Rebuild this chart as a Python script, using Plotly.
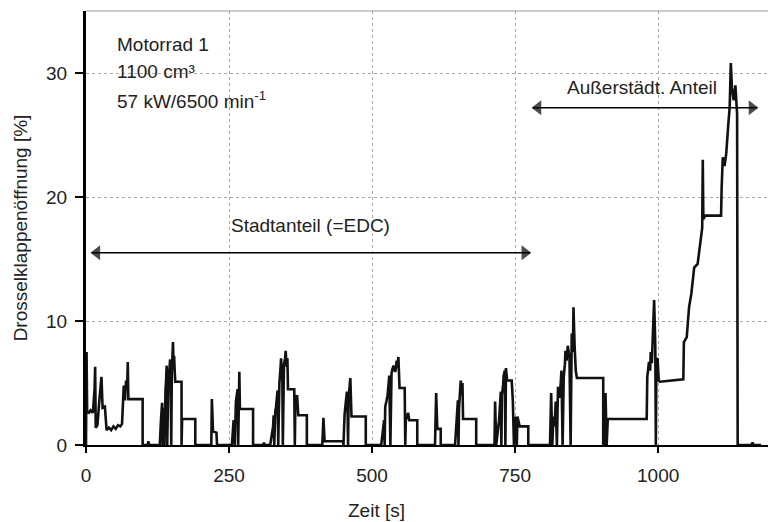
import plotly.graph_objects as go

# time [s]
t = [0, 1, 2, 5, 8, 12, 15, 16, 17, 20, 23, 25, 27, 29, 33, 36, 40, 44, 48, 52, 56, 60, 63, 66, 68, 70, 72, 73, 74, 99, 99,
     108, 109, 110,
     129, 131, 133, 134, 135, 136, 137, 138, 139, 140, 141, 142, 143, 144, 146, 147, 148, 149, 150, 151, 152, 153, 154, 155, 156,
     167, 167, 168, 168, 191, 191,
     219, 220, 222, 228, 229, 255, 258, 260, 262, 264, 265, 266, 267, 268, 269, 292, 292,
     310, 311, 312,
     322, 325, 327, 328, 329, 331, 332, 334, 335, 336, 337, 338, 340, 341, 342, 343, 344, 345, 346, 348, 349, 350, 351, 352, 353,
     364, 365, 366, 369, 371, 386, 386,
     413, 415, 417, 449, 450, 452, 453, 456, 457, 458, 459, 461, 462, 464, 489, 489,
     516, 518, 521, 522, 523, 525, 527, 529, 530, 532, 534, 536, 538, 540, 541, 543, 544, 546, 547, 548,
     557, 558, 559, 563, 565, 579, 579,
     610, 612, 614, 620, 620, 645, 648, 650, 651, 652, 654, 655, 657, 658, 659, 682, 682,
     714, 715, 717, 722, 724, 725, 726, 727, 729, 730, 732, 733, 734, 736, 744, 746, 748, 750, 753, 754, 758, 773, 773,
     811, 813, 815, 817, 819, 821, 823, 825, 827, 828, 830, 831, 833, 835, 837, 838, 840, 842, 844, 845, 847, 849, 851, 852,
     854, 856, 858, 860,
     904, 904, 906, 908, 910, 912, 980,
     981, 984, 986, 987, 989, 990, 991, 993, 995, 996, 997, 999, 1001, 1003, 1044, 1045, 1050, 1054, 1058, 1063, 1069, 1073, 1077,
     1078, 1079, 1082, 1110, 1111, 1113, 1116, 1119, 1123, 1125, 1127, 1129, 1132, 1135, 1138, 1139,
     1163, 1165, 1167, 1180]
# throttle opening [%]
v = [0, 7.5, 2.7, 2.6, 2.8, 2.6, 4.5, 6.3, 1.4, 1.6, 3.4, 4.6, 5.5, 3.0, 3.1, 1.2, 1.4, 1.2, 1.5, 1.3, 1.6, 1.5, 1.7, 4.8, 3.6, 5.2, 4.6, 6.7, 3.7, 3.7, 0,
     0, 0.3, 0,
     0, 2.0, 3.4, 0, 2.5, 3.0, 0, 4.0, 4.5, 5.2, 6.4, 0, 4.8, 5.5, 6.2, 6.9, 5.5, 0, 5.8, 7.0, 8.3, 6.5, 7.2, 6.0, 5.1,
     5.1, 0, 0, 2.1, 2.1, 0,
     0, 3.7, 1.1, 1.0, 0, 0, 2.0, 0, 3.5, 4.2, 4.5, 0, 5.0, 5.9, 2.9, 2.9, 0,
     0, 0.2, 0,
     0, 0.8, 1.5, 2.4, 0, 2.8, 3.0, 4.0, 4.4, 0, 4.6, 5.0, 6.2, 7.0, 5.8, 6.5, 0, 6.0, 6.5, 7.0, 7.6, 6.8, 6.3, 7.0, 4.5,
     4.5, 0, 3.7, 4.0, 2.4, 2.4, 0,
     0, 2.2, 0.3, 0.3, 0, 2.5, 3.0, 4.3, 3.6, 0, 3.8, 4.6, 5.4, 2.3, 2.3, 0,
     0, 0.8, 2.0, 0, 3.1, 3.5, 4.0, 5.0, 5.6, 0, 5.8, 6.2, 6.4, 5.9, 6.0, 6.8, 6.2, 7.1, 5.5, 4.6,
     4.6, 0, 2.0, 2.6, 2.0, 2.0, 0,
     0, 4.2, 1.3, 1.3, 0, 0, 2.5, 3.6, 0, 3.0, 4.5, 5.2, 4.0, 5.0, 2.1, 2.1, 0,
     0, 3.5, 0, 2.0, 3.6, 4.3, 0, 4.0, 4.8, 5.6, 6.0, 0, 6.2, 5.2, 5.2, 3.6, 0, 2.3, 0, 2.3, 1.5, 1.5, 0,
     0, 4.2, 0, 2.3, 1.5, 3.5, 0, 4.7, 4.2, 3.8, 5.2, 6.0, 0, 5.5, 6.5, 7.6, 6.8, 8.0, 7.4, 7.2, 0, 9.0, 7.5, 11.1,
     8.0, 6.0, 5.4, 5.4,
     5.4, 0, 0, 4.2, 0, 2.1, 2.1,
     5.5, 6.7, 6.0, 7.5, 6.6, 7.8, 9.0, 11.7, 8.0, 0, 6.9, 7.0, 5.2, 5.1, 5.3, 8.3, 8.7, 11.1, 12.2, 14.3, 14.6, 15.9, 17.5,
     23.0, 18.2, 18.5, 18.5, 20.8, 23.2, 22.5, 23.5, 26.1, 27.2, 30.8, 28.8, 27.8, 29.0, 26.7, 0,
     0, 0.2, 0, 0]

x_ticks = [0, 250, 500, 750, 1000]
y_ticks = [0, 10, 20, 30]

# annotation double arrows: (start, end, level)
city_arrow = (10, 776, 15.5)
rural_arrow = (781, 1173, 27.2)

FONT = "Liberation Sans, Arial, sans-serif"
TXT = "#222222"

fig = go.Figure()
fig.add_trace(go.Scatter(x=t, y=v, mode="lines",
                         line=dict(color="#111111", width=2.6),
                         hoverinfo="skip", showlegend=False))

for (a0, a1, lev) in [city_arrow, rural_arrow]:
    fig.add_trace(go.Scatter(x=[a0, a1], y=[lev, lev], mode="lines",
                             line=dict(color="black", width=1.5),
                             hoverinfo="skip", showlegend=False))
    fig.add_trace(go.Scatter(x=[a0 + 9, a1 - 9], y=[lev, lev], mode="markers",
                             marker=dict(symbol=["triangle-left", "triangle-right"], size=[13, 13],
                                         color="black", line=dict(width=0)),
                             hoverinfo="skip", showlegend=False))

fig.update_layout(
    width=768, height=522,
    margin=dict(l=86, r=0, t=11, b=77),
    paper_bgcolor="white", plot_bgcolor="white",
    font=dict(family=FONT, size=19, color=TXT),
    showlegend=False,
)
fig.update_xaxes(range=[0, 1192], tickvals=x_ticks, ticks="outside", ticklen=6, tickwidth=1.5,
                 tickcolor="black", showline=True, linecolor="black", linewidth=2,
                 showgrid=True, gridcolor="#aaaaaa", griddash="dot", gridwidth=1,
                 zeroline=False, ticklabelstandoff=6, tickfont=dict(size=19, color=TXT))
fig.update_yaxes(range=[0, 35], tickvals=y_ticks, ticks="outside", ticklen=8, tickwidth=1.5,
                 tickcolor="black", showline=True, linecolor="black", linewidth=3,
                 showgrid=True, gridcolor="#aaaaaa", griddash="dot", gridwidth=1,
                 zeroline=False, ticklabelstandoff=4, tickfont=dict(size=19, color=TXT),
                 title=dict(text="Drosselklappenöffnung [%]", standoff=14,
                            font=dict(size=19, color=TXT)))

# top border
fig.add_shape(type="line", xref="paper", yref="paper", x0=0, x1=1, y0=1, y1=1,
              line=dict(color="#999999", width=1))

# x axis title (placed left of centre as in the original)
fig.add_annotation(text="Zeit [s]", xref="paper", yref="paper",
                   x=(376 - 86) / 682, y=-0.15, showarrow=False,
                   xanchor="center", yanchor="middle", font=dict(size=19, color=TXT))

# info text
for yy, txt in [(32.3, "Motorrad 1"), (30.1, "1100 cm³"), (27.8, "57 kW/6500 min<sup>-1</sup>")]:
    fig.add_annotation(text=txt, x=50, y=yy, xanchor="left", yanchor="middle",
                       showarrow=False, font=dict(size=19, color=TXT))

fig.add_annotation(text="Stadtanteil (=EDC)", x=393, y=17.7, showarrow=False,
                   xanchor="center", yanchor="middle", font=dict(size=19, color=TXT))
fig.add_annotation(text="Außerstädt. Anteil", x=972, y=28.8, showarrow=False,
                   xanchor="center", yanchor="middle", font=dict(size=19, color=TXT))

fig.write_html("out.html")
